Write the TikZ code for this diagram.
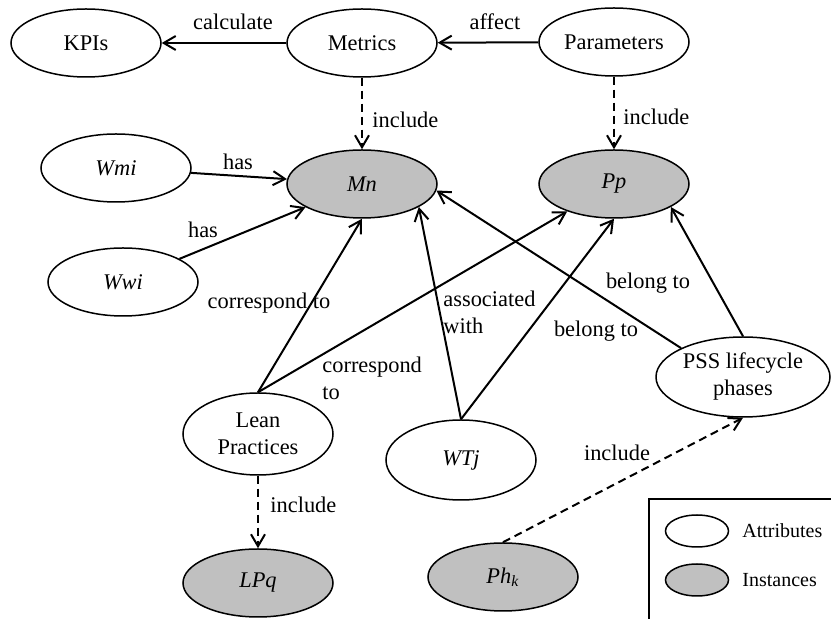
\documentclass[tikz,border=0pt]{standalone}
\usepackage{fontspec}
\setmainfont{Liberation Serif}
\usetikzlibrary{arrows.meta,shapes.geometric}
\definecolor{INST-GRAY}{RGB}{192,192,192}

\begin{document}
\begin{tikzpicture}[x=0.5pt,y=-0.5pt,
  font=\fontsize{11.2}{13.5}\selectfont,
  attr/.style={ellipse, draw, line width=0.75pt, fill=white, inner sep=0pt,
    minimum width=75pt, minimum height=34pt},
  inst/.style={attr, fill=INST-GRAY},
  arr/.style={-{Straight Barb[length=6pt,width=7pt]}, line width=1pt},
  incl/.style={arr, dash pattern=on 4pt off 2.5pt},
  lbl/.style={inner sep=0pt}]
  \useasboundingbox (0,0) rectangle (831,619);

  % Top row
  \node[attr] (kpis) at (86,43) {KPIs};
  \node[attr] (metrics) at (362,43) {Metrics};
  \node[attr] (params) at (614,42) {Parameters};

  % Instances Mn and Pp
  \node[inst] (mn) at (362,184) {\textit{Mn}};
  \node[inst] (pp) at (614,184) {\textit{Pp}};

  % Attributes on the left and below
  \node[attr] (wmi) at (116,168) {\textit{Wmi}};
  \node[attr] (wwi) at (123,282) {\textit{Wwi}};
  \node[attr, minimum height=41pt, align=center] (lean) at (258,434) {Lean\\Practices};
  \node[attr, minimum height=40pt] (wtj) at (461,460) {\textit{WTj}};
  \node[attr, minimum width=87pt, minimum height=40pt, align=center] (pss) at (743,377) {PSS lifecycle\\phases};

  % Bottom instances
  \node[inst] (lpq) at (258,583) {\textit{LPq}};
  \node[inst] (phk) at (503,577) {\textit{Ph}\textsubscript{\textit{k}}};

  % Connectors
  \draw[arr] (metrics) -- (kpis);
  \node[lbl] (lcalc) at (233,22) {calculate};
  \draw[arr] (params) -- (metrics);
  \node[lbl] (laffect) at (495,22) {affect};
  \draw[incl] (metrics) -- (mn);
  \node[lbl, anchor=west] (linclm) at (372,120) {include};
  \draw[incl] (params) -- (pp);
  \node[lbl, anchor=west] (linclp) at (623,117) {include};

  \draw[arr] (wmi) -- (mn);
  \node[lbl] (lhas1) at (238,162) {has};
  \draw[arr] (wwi) -- (mn);
  \node[lbl] (lhas2) at (203,230) {has};

  \draw[arr] (lean.north) -- (mn.south);
  \node[lbl] (lcorr1) at (269,303) {correspond to};
  \draw[arr] (lean.north) -- (pp);
  \node[lbl, anchor=west, align=left] (lcorr2) at (322,378) {correspond\\to};

  \draw[arr] (wtj.north) -- (mn.-22);
  \node[lbl, anchor=west, align=left] (lassoc) at (443,312) {associated\\ with};
  \draw[arr] (wtj.north) -- (pp.south);
  \node[lbl] (lbel1) at (596,331) {belong to};

  \draw[arr] (pss.155) -- (mn.-5);
  \node[lbl] (lbel2) at (648,283) {belong to};
  \draw[arr] (pss.north) -- (pp.-22);

  \draw[incl] (lean.south) -- (lpq.north);
  \node[lbl, anchor=west] (lincll) at (270,505) {include};
  \draw[incl] (phk.north) -- (pss.south);
  \node[lbl] (linclk) at (617,453) {include};

  % Legend
  \draw[line width=0.8pt] (831,499) -- (649,499) -- (649,619);
  \node[attr, minimum width=31.5pt, minimum height=16pt] (keyattr) at (697,531) {};
  \node[lbl, anchor=west, font=\fontsize{10}{12}\selectfont] (keyattrtxt) at (742,531) {Attributes};
  \node[inst, minimum width=31.5pt, minimum height=16pt] (keyinst) at (697,580) {};
  \node[lbl, anchor=west, font=\fontsize{10}{12}\selectfont] (keyinsttxt) at (742,580) {Instances};
\end{tikzpicture}
\end{document}
